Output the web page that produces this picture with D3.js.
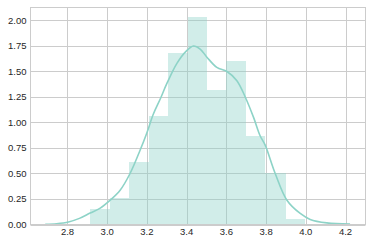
<!DOCTYPE html>
<html>
<head>
<meta charset="utf-8">
<script src="https://cdn.jsdelivr.net/npm/d3@7"></script>
<style>
  body { margin: 0; background: #fff; }
  svg { display: block; }
  .tick-label { font-family: "Liberation Sans", Arial, sans-serif; font-size: 9.5px; fill: #262626; }
</style>
</head>
<body>
<svg width="372" height="244"></svg>
<script>
// histogram bins (edges) and densities
const binEdges = [2.913, 3.015, 3.111, 3.211, 3.306, 3.406, 3.503, 3.600, 3.699, 3.797, 3.900, 3.998];
const binHeights = [0.15, 0.255, 0.61, 1.06, 1.68, 2.03, 1.32, 1.60, 0.87, 0.50, 0.052];

// kde curve
const kdeX = [2.688, 2.745, 2.805, 2.86, 2.914, 2.965, 3.015, 3.065, 3.115, 3.166, 3.2, 3.232, 3.267, 3.30, 3.351,
  3.398, 3.434, 3.468, 3.502, 3.552, 3.603, 3.653, 3.695, 3.737, 3.770, 3.795, 3.846, 3.905, 3.972, 4.022, 4.106, 4.223];
const kdeY = [0.002, 0.008, 0.025, 0.06, 0.112, 0.16, 0.238, 0.336, 0.50, 0.73, 0.90, 1.08, 1.23, 1.38, 1.58,
  1.70, 1.75, 1.72, 1.64, 1.54, 1.50, 1.41, 1.25, 1.05, 0.87, 0.78, 0.50, 0.238, 0.108, 0.05, 0.016, 0.004];

const xTicks = [2.8, 3.0, 3.2, 3.4, 3.6, 3.8, 4.0, 4.2];
const yTicks = [0, 0.25, 0.5, 0.75, 1.0, 1.25, 1.5, 1.75, 2.0];

const colour = "#8dd3c7";
const gridColour = "#cccccc";

const svg = d3.select("svg");
const plotLeft = 30.5, plotRight = 365.5, plotTop = 7.5, plotBottom = 224.5;

const x = d3.scaleLinear().domain([2.6137, 4.3007]).range([plotLeft, plotRight]);
const y = d3.scaleLinear().domain([0, 2.127]).range([plotBottom, plotTop]);

// grid
const grid = svg.append("g");
grid.selectAll(".vx")
  .data(xTicks)
  .enter()
  .append("line")
  .attr("x1", d => Math.round(x(d)) + 0.5)
  .attr("x2", d => Math.round(x(d)) + 0.5)
  .attr("y1", plotTop)
  .attr("y2", plotBottom)
  .style("stroke", gridColour)
  .style("stroke-width", 1);
grid.selectAll(".hy")
  .data(yTicks)
  .enter()
  .append("line")
  .attr("x1", plotLeft)
  .attr("x2", plotRight)
  .attr("y1", d => Math.round(y(d)) + 0.5)
  .attr("y2", d => Math.round(y(d)) + 0.5)
  .style("stroke", gridColour)
  .style("stroke-width", 1);

// bars
svg.append("g")
  .selectAll("rect")
  .data(binHeights)
  .enter()
  .append("rect")
  .attr("x", (d, i) => x(binEdges[i]))
  .attr("width", (d, i) => x(binEdges[i + 1]) - x(binEdges[i]))
  .attr("y", d => y(d))
  .attr("height", d => y(0) - y(d))
  .attr("fill", colour)
  .attr("fill-opacity", 0.4)
  .attr("shape-rendering", "crispEdges");

// kde line
const line = d3.line()
  .x(d => x(d[0]))
  .y(d => y(d[1]))
  .curve(d3.curveCatmullRom);

svg.append("path")
  .datum(d3.zip(kdeX, kdeY))
  .attr("d", line)
  .attr("fill", "none")
  .attr("stroke", colour)
  .attr("stroke-width", 1.6);

// frame
svg.append("rect")
  .attr("x", plotLeft)
  .attr("y", plotTop)
  .attr("width", plotRight - plotLeft)
  .attr("height", plotBottom - plotTop)
  .attr("fill", "none")
  .style("stroke", gridColour)
  .style("stroke-width", 1);

// tick labels
svg.append("g")
  .selectAll("text")
  .data(xTicks)
  .enter()
  .append("text")
  .attr("class", "tick-label")
  .attr("x", d => x(d))
  .attr("y", plotBottom + 10.3)
  .attr("text-anchor", "middle")
  .text(d => d3.format(".1f")(d));

svg.append("g")
  .selectAll("text")
  .data(yTicks)
  .enter()
  .append("text")
  .attr("class", "tick-label")
  .attr("x", plotLeft - 4)
  .attr("y", d => y(d) + 3.4)
  .attr("text-anchor", "end")
  .text(d => d3.format(".2f")(d));
</script>
</body>
</html>
